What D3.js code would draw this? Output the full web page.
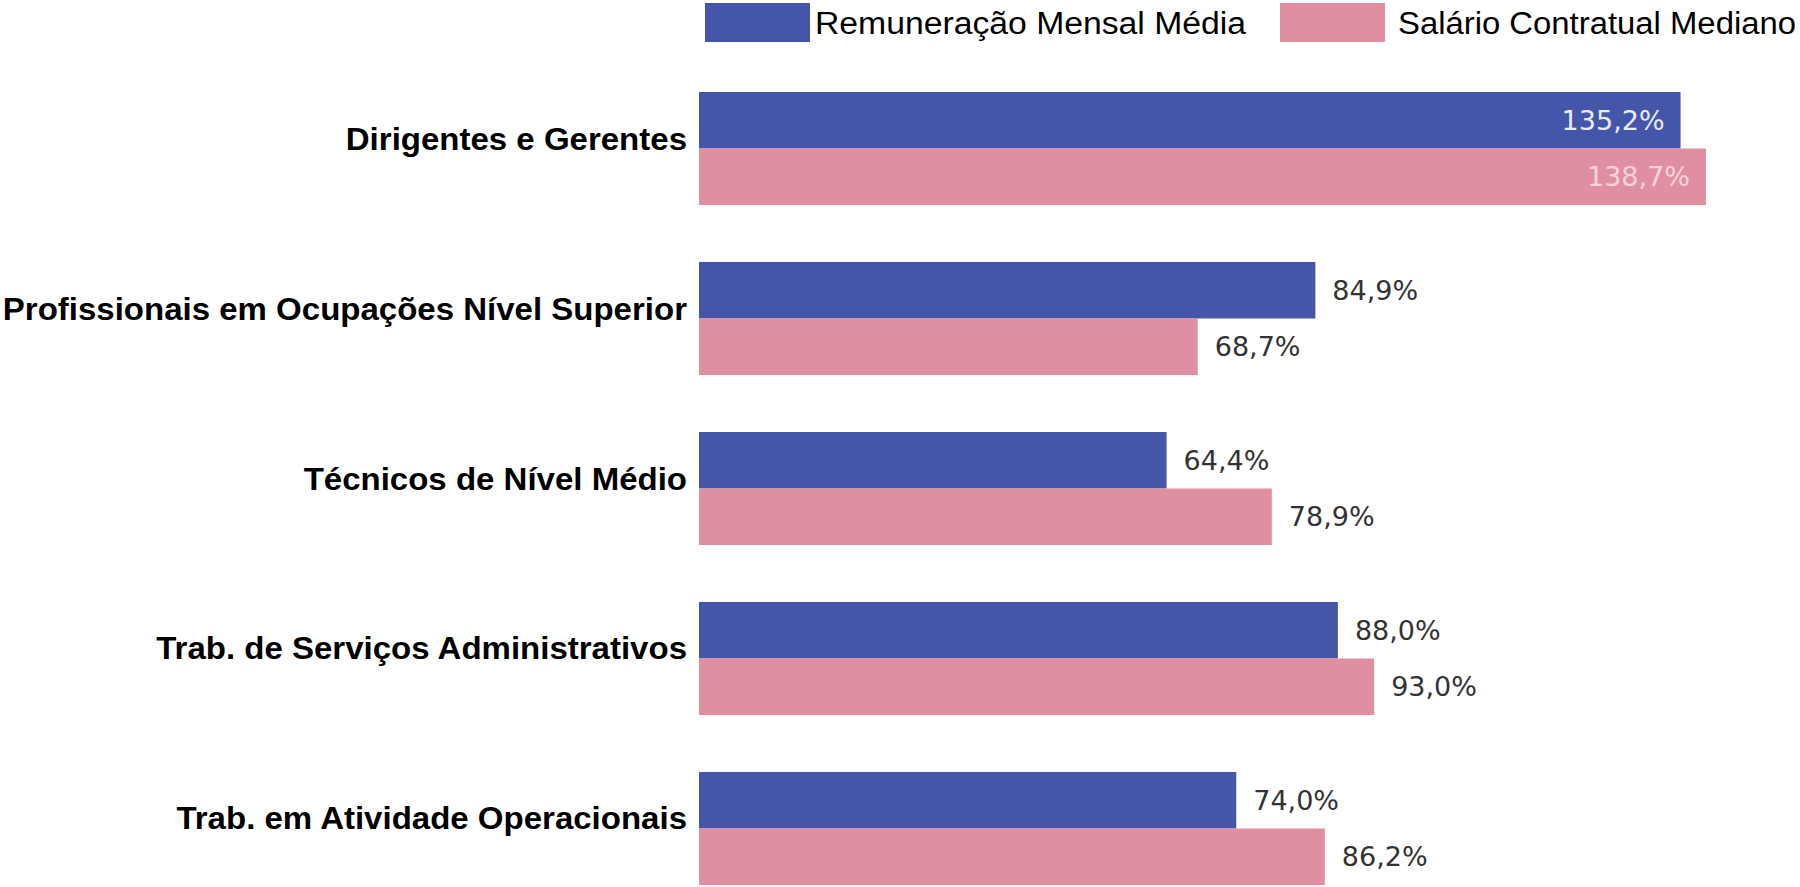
<!DOCTYPE html>
<html>
<head>
<meta charset="utf-8">
<script src="https://cdn.jsdelivr.net/npm/d3@7"></script>
<style>
  html, body { margin: 0; padding: 0; background: #ffffff; }
  svg { display: block; }
</style>
</head>
<body>
<svg id="chart" width="1800" height="887"></svg>
<script>
const categories = [
  "Dirigentes e Gerentes",
  "Profissionais em Ocupações Nível Superior",
  "Técnicos de Nível Médio",
  "Trab. de Serviços Administrativos",
  "Trab. em Atividade Operacionais"
];
const seriesNames = ["Remuneração Mensal Média", "Salário Contratual Mediano"];
const remuneracao = [135.2, 84.9, 64.4, 88.0, 74.0];
const salario = [138.7, 68.7, 78.9, 93.0, 86.2];
const seriesColors = ["#4455aa", "#e08fa0"];

const svg = d3.select("#chart");

const x = d3.scaleLinear().domain([0, 150]).range([699, 1788]);
const y = d3.scaleBand().domain(categories).range([92, 885]).paddingInner(0.335).paddingOuter(0);
const ySub = d3.scaleBand().domain([0, 1]).range([0, y.bandwidth()]).padding(0);

const fmt = v => d3.format(".1f")(v).replace(".", ",") + "%";

const series = [remuneracao, salario];

// bars
series.forEach((vals, si) => {
  const g = svg.append("g");
  g.selectAll("rect").data(categories).join("rect")
    .attr("x", x(0))
    .attr("y", c => y(c) + ySub(si))
    .attr("width", (c, i) => x(vals[i]) - x(0))
    .attr("height", ySub.bandwidth())
    .attr("fill", seriesColors[si]);

  g.selectAll("text").data(categories).join("text")
    .attr("font-family", "'DejaVu Sans', Verdana, sans-serif")
    .attr("font-size", 27)
    .attr("dominant-baseline", "central")
    .attr("y", c => y(c) + ySub(si) + ySub.bandwidth() / 2)
    .each(function (c, i) {
      const v = vals[i];
      const inside = v > 120;
      d3.select(this)
        .attr("x", inside ? x(v) - 16 : x(v) + 17)
        .attr("text-anchor", inside ? "end" : "start")
        .attr("fill", inside ? (si === 0 ? "#e8ecff" : "#f6d3da") : "#333333")
        .text(fmt(v));
    });
});

// category labels
svg.append("g").selectAll("text").data(categories).join("text")
  .attr("transform", c => `translate(687,${y(c) + y.bandwidth() / 2 + 1}) scale(1.065,1)`)
  .attr("text-anchor", "end")
  .attr("font-family", "'Liberation Sans', Arial, sans-serif")
  .attr("font-weight", "bold")
  .attr("font-size", 31)
  .attr("fill", "#000")
  .text(c => c);

// legend
const legendX = [705, 1280];
const legendTextX = [815, 1398];
const legendTextW = [431, 398];
const legend = svg.append("g");
seriesNames.forEach((name, i) => {
  legend.append("rect")
    .attr("x", legendX[i]).attr("y", 3)
    .attr("width", 105).attr("height", 39)
    .attr("fill", seriesColors[i]);
  legend.append("text")
    .attr("x", legendTextX[i]).attr("y", 34)
    .attr("font-family", "'Liberation Sans', Arial, sans-serif")
    .attr("font-size", 31)
    .attr("textLength", legendTextW[i])
    .attr("lengthAdjust", "spacingAndGlyphs")
    .attr("fill", "#000")
    .text(name);
});
</script>
</body>
</html>
